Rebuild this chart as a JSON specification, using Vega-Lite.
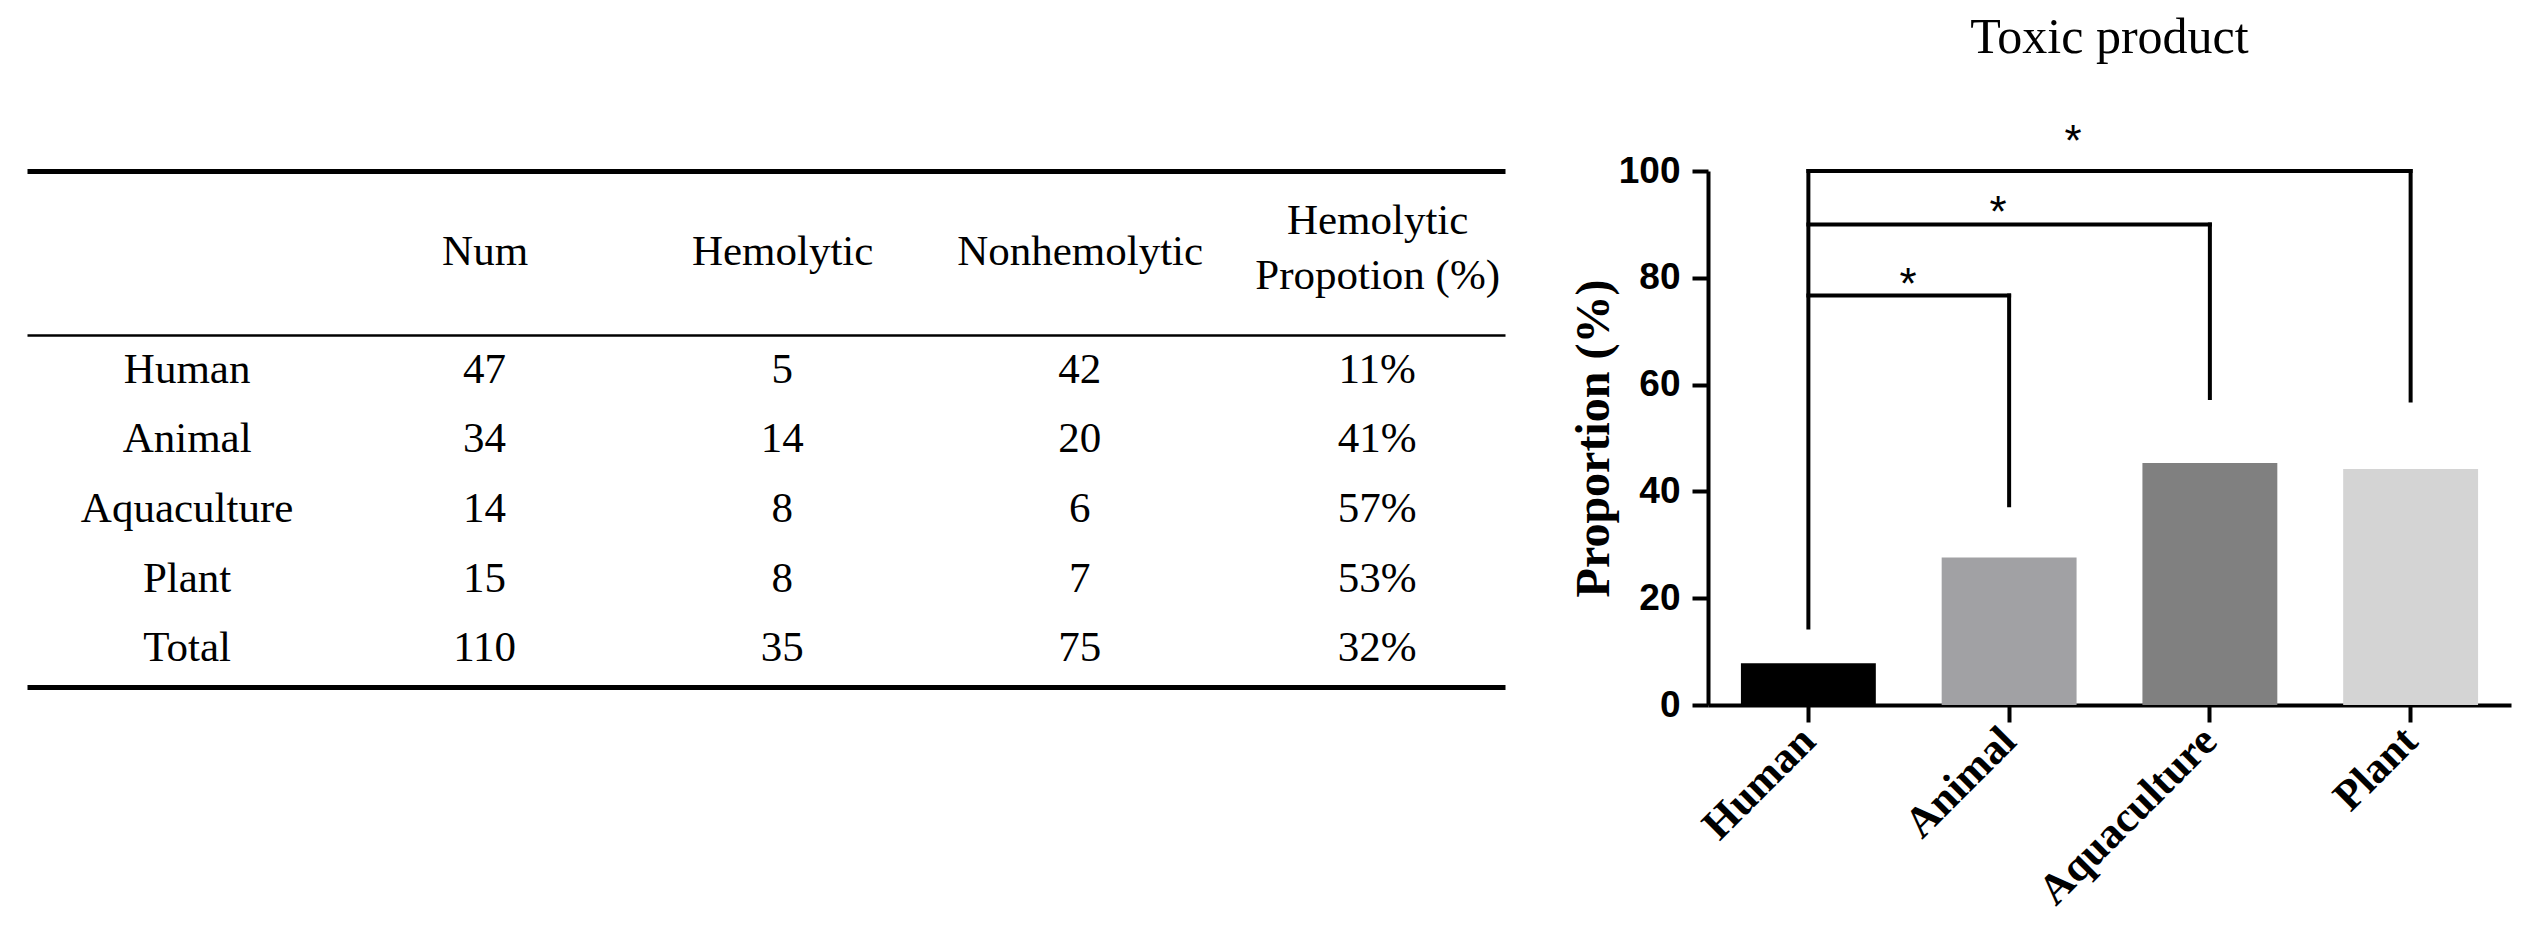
{
  "$schema": "https://vega.github.io/schema/vega-lite/v6.json",
  "background": "white",
  "padding": {"left": 27, "top": 13, "right": 5, "bottom": 5},
  "bounds": "flush",
  "spacing": 203,
  "config": {
    "view": {"stroke": null},
    "axis": {"grid": false, "domainColor": "black", "tickColor": "black", "labelColor": "black", "titleColor": "black"}
  },
  "datasets": {
    "table": [
      {"group": "Human", "Num": 47, "Hemolytic": 5, "Nonhemolytic": 42, "Proportion": "11%"},
      {"group": "Animal", "Num": 34, "Hemolytic": 14, "Nonhemolytic": 20, "Proportion": "41%"},
      {"group": "Aquaculture", "Num": 14, "Hemolytic": 8, "Nonhemolytic": 6, "Proportion": "57%"},
      {"group": "Plant", "Num": 15, "Hemolytic": 8, "Nonhemolytic": 7, "Proportion": "53%"},
      {"group": "Total", "Num": 110, "Hemolytic": 35, "Nonhemolytic": 75, "Proportion": "32%"}
    ],
    "bars": [
      {"group": "Human", "proportion": 7.8},
      {"group": "Animal", "proportion": 27.6},
      {"group": "Aquaculture", "proportion": 45.3},
      {"group": "Plant", "proportion": 44.2}
    ],
    "stem": [{"group": "Human", "low": 14.5, "high": 100}],
    "brackets": [
      {"from": "Human", "to": "Animal", "top": 76.7, "foot": 37.4, "starx": 0.996, "stary": 78.5},
      {"from": "Human", "to": "Aquaculture", "top": 90, "foot": 57.5, "starx": 1.445, "stary": 92},
      {"from": "Human", "to": "Plant", "top": 100, "foot": 57, "starx": 1.818, "stary": 105.2}
    ]
  },
  "hconcat": [
    {
      "width": 1478,
      "height": 516,
      "data": {"name": "table"},
      "transform": [{"fold": ["group", "Num", "Hemolytic", "Nonhemolytic", "Proportion"], "as": ["column", "cell"]}],
      "layer": [
        {
          "transform": [{"filter": "datum.column === 'group'"}],
          "mark": {"type": "text", "font": "Liberation Serif", "fontSize": 43, "color": "black", "align": "center", "baseline": "middle"},
          "encoding": {
            "x": {
              "field": "column", "type": "nominal",
              "scale": {"type": "point", "domain": ["group", "Num", "Hemolytic", "Nonhemolytic", "Proportion"], "padding": 0.484, "align": 0.556},
              "axis": {
                "orient": "top", "title": null, "ticks": false, "tickSize": 0,
                "domainWidth": 5, "domainColor": "black",
                "labelFont": "Liberation Serif", "labelFontSize": 43, "labelColor": "black",
                "labelPadding": {"condition": {"test": "datum.value == 'Proportion'", "value": -49}, "value": -80},
                "labelBaseline": "middle", "labelAngle": 0, "labelLineHeight": 55,
                "labelBound": false, "labelOverlap": false, "labelLimit": 0,
                "labelExpr": "datum.value == 'Proportion' ? ['Hemolytic', 'Propotion (%)'] : (datum.value == 'group' ? '' : datum.value)"
              }
            },
            "y": {
              "field": "group", "type": "nominal",
              "scale": {"type": "band", "domain": ["Human", "Animal", "Aquaculture", "Plant", "Total"], "paddingInner": 0, "paddingOuter": 0, "range": [164, 512]},
              "axis": {"labels": false, "ticks": false, "domain": false, "title": null, "grid": true, "gridColor": "black", "gridWidth": 2.5, "gridOpacity": 1, "values": ["Human"], "bandPosition": 0}
            },
            "text": {"field": "cell", "type": "nominal"}
          }
        },
        {
          "transform": [{"filter": "datum.column !== 'group'"}],
          "mark": {"type": "text", "font": "Liberation Serif", "fontSize": 43, "color": "black", "align": "center", "baseline": "middle"},
          "encoding": {
            "x": {
              "field": "column", "type": "nominal",
              "scale": {"type": "point", "domain": ["group", "Num", "Hemolytic", "Nonhemolytic", "Proportion"], "padding": 0.484, "align": 0.556},
              "axis": {"orient": "bottom", "title": null, "labels": false, "ticks": false, "domainWidth": 5, "domainColor": "black"}
            },
            "y": {
              "field": "group", "type": "nominal",
              "scale": {"type": "band", "domain": ["Human", "Animal", "Aquaculture", "Plant", "Total"], "paddingInner": 0, "paddingOuter": 0, "range": [164, 512]},
              "axis": {"labels": false, "ticks": false, "domain": false, "title": null, "grid": true, "gridColor": "black", "gridWidth": 2.5, "gridOpacity": 1, "values": ["Human"], "bandPosition": 0}
            },
            "text": {"field": "cell", "type": "nominal"}
          }
        }
      ],
      "resolve": {"axis": {"x": "independent"}}
    },
    {
      "width": 803,
      "height": 534,
      "title": {"text": "Toxic product", "font": "Liberation Serif", "fontSize": 50, "fontWeight": "normal", "color": "black", "anchor": "middle", "offset": 58},
      "layer": [
        {
          "layer": [
            {
              "data": {"name": "bars"},
              "mark": {"type": "bar"},
              "encoding": {
                "x": {
                  "field": "group", "type": "nominal", "title": null,
                  "scale": {"type": "band", "domain": ["Human", "Animal", "Aquaculture", "Plant"], "paddingInner": 0.328, "paddingOuter": 0.164},
                  "axis": {"title": null, "labelAngle": -45, "labelAlign": "right", "labelBaseline": "middle", "labelFont": "Liberation Serif", "labelFontWeight": "bold", "labelFontSize": 43, "labelColor": "black", "tickSize": 17, "tickWidth": 4, "domainWidth": 4, "labelPadding": 12, "labelLimit": 0}
                },
                "y": {
                  "field": "proportion", "type": "quantitative", "title": "Proportion (%)",
                  "scale": {"domain": [0, 100], "nice": false},
                  "axis": {"title": "Proportion (%)", "titleFont": "Liberation Serif", "titleFontWeight": "bold", "titleFontSize": 48, "titlePadding": 0, "values": [0, 20, 40, 60, 80, 100], "labelFont": "Liberation Sans", "labelFontWeight": "bold", "labelFontSize": 37, "tickSize": 16, "tickWidth": 4, "domainWidth": 4, "labelPadding": 12}
                },
                "color": {
                  "field": "group", "type": "nominal",
                  "scale": {"domain": ["Human", "Animal", "Aquaculture", "Plant"], "range": ["#000000", "#a1a1a4", "#808080", "#d4d4d4"]},
                  "legend": null
                }
              }
            },
            {
              "data": {"name": "stem"},
              "mark": {"type": "rule", "strokeWidth": 4, "color": "black", "strokeCap": "square"},
              "encoding": {
                "x": {"field": "group", "type": "nominal", "title": null},
                "y": {"field": "low", "type": "quantitative", "title": "Proportion (%)"},
                "y2": {"field": "high"}
              }
            },
            {
              "data": {"name": "brackets"},
              "mark": {"type": "rule", "strokeWidth": 4, "color": "black", "strokeCap": "square"},
              "encoding": {
                "x": {"field": "from", "type": "nominal", "title": null},
                "x2": {"field": "to"},
                "y": {"field": "top", "type": "quantitative", "title": "Proportion (%)"}
              }
            },
            {
              "data": {"name": "brackets"},
              "mark": {"type": "rule", "strokeWidth": 4, "color": "black", "strokeCap": "square"},
              "encoding": {
                "x": {"field": "to", "type": "nominal", "title": null},
                "y": {"field": "foot", "type": "quantitative", "title": "Proportion (%)"},
                "y2": {"field": "top"}
              }
            }
          ]
        },
        {
          "data": {"name": "brackets"},
          "mark": {"type": "text", "text": "*", "font": "Liberation Sans", "fontSize": 44, "color": "black", "align": "center", "baseline": "middle"},
          "encoding": {
            "x": {"field": "starx", "type": "quantitative", "scale": {"domain": [0, 4], "nice": false, "zero": false}, "axis": null},
            "y": {"field": "stary", "type": "quantitative", "title": "Proportion (%)"}
          }
        }
      ],
      "resolve": {"scale": {"x": "independent"}}
    }
  ]
}
